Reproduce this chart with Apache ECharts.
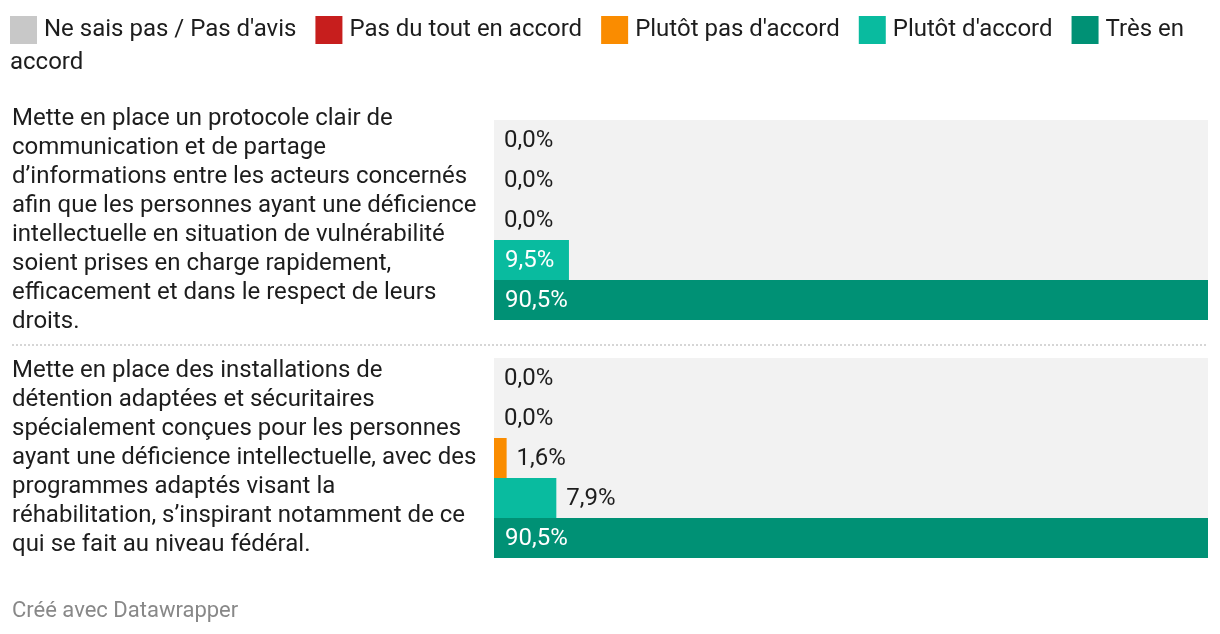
<!DOCTYPE html>
<html>
<head>
<meta charset="utf-8">
<script src="https://cdn.jsdelivr.net/npm/echarts@6/dist/echarts.min.js"></script>
<style>
  html, body { margin: 0; padding: 0; background: #fff; }
  #chart { width: 1220px; height: 634px; }
</style>
</head>
<body>
<div id="chart"></div>
<script>
const categories = [
  "Mette en place un protocole clair de\ncommunication et de partage\nd’informations entre les acteurs concernés\nafin que les personnes ayant une déficience\nintellectuelle en situation de vulnérabilité\nsoient prises en charge rapidement,\nefficacement et dans le respect de leurs\ndroits.",
  "Mette en place des installations de\ndétention adaptées et sécuritaires\nspécialement conçues pour les personnes\nayant une déficience intellectuelle, avec des\nprogrammes adaptés visant la\nréhabilitation, s’inspirant notamment de ce\nqui se fait au niveau fédéral."
];
const seriesNames = ["Ne sais pas / Pas d'avis", "Pas du tout en accord", "Plutôt pas d'accord", "Plutôt d'accord", "Très en accord"];
const neSaisPas = [0.0, 0.0];
const pasDuTout = [0.0, 0.0];
const plutotPas = [0.0, 1.6];
const plutotDaccord = [9.5, 7.9];
const tresEnAccord = [90.5, 90.5];
const colors = ["#c8c8c8", "#c71e1d", "#fa8c00", "#09bb9f", "#009175"];

const allSeries = [neSaisPas, pasDuTout, plutotPas, plutotDaccord, tresEnAccord];
const maxValue = Math.max(...allSeries.flat());
const fmt = v => v.toFixed(1).replace('.', ',') + '%';

function buildData(values) {
  return values.map(v => {
    const inside = v >= 9;
    return {
      value: v,
      label: inside
        ? { position: 'insideLeft', distance: 11, color: '#ffffff' }
        : { position: 'right', distance: 10, color: '#1d1d1d' }
    };
  });
}

const chart = echarts.init(document.getElementById('chart'), null, { renderer: 'canvas' });
chart.setOption({
  animation: false,
  textStyle: { fontFamily: 'Roboto' },
  legend: {
    left: 5,
    top: 11,
    icon: 'rect',
    itemWidth: 27,
    itemHeight: 28,
    itemGap: 19,
    selectedMode: false,
    data: seriesNames,
    formatter: name => name === "Très en accord" ? "Très en" : name,
    textStyle: { fontFamily: 'Roboto', fontSize: 24, color: '#1d1d1d', padding: [0, 0, 0, 2] }
  },
  graphic: [
    { type: 'text', left: 10, top: 51, style: { text: 'accord', font: '24px Roboto', fill: '#1d1d1d' } },
    { type: 'line', shape: { x1: 12, y1: 345, x2: 1208, y2: 345 }, style: { stroke: '#d6d6d6', lineWidth: 2, lineDash: [2, 2] } },
    { type: 'text', left: 12, top: 600, style: { text: 'Créé avec Datawrapper', font: '22px Roboto', fill: '#888888' } }
  ],
  grid: { left: 494, right: 12, top: 101, bottom: 57, outerBoundsMode: 'none' },
  xAxis: { type: 'value', min: 0, max: maxValue, show: false, splitLine: { show: false } },
  yAxis: {
    type: 'category',
    inverse: true,
    data: categories,
    axisLine: { show: false },
    axisTick: { show: false },
    splitLine: { show: false },
    axisLabel: {
      align: 'left',
      margin: 482,
      fontFamily: 'Roboto',
      fontSize: 24,
      lineHeight: 29,
      color: '#1d1d1d'
    }
  },
  series: allSeries.map((vals, i) => ({
    name: seriesNames[i],
    type: 'bar',
    barWidth: 40,
    barGap: '0%',
    itemStyle: { color: colors[i] },
    showBackground: true,
    backgroundStyle: { color: '#f2f2f2' },
    label: { show: true, fontFamily: 'Roboto', fontSize: 24, offset: [0, 1], formatter: p => fmt(p.value) },
    data: buildData(vals)
  }))
});
</script>
</body>
</html>
